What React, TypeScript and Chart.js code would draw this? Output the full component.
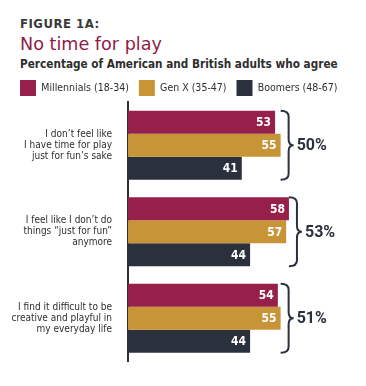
import React, { useEffect, useRef } from "react";
import { Chart, registerables } from "chart.js";

Chart.register(...registerables);

const categories: string[][] = [
  ["I don\u2019t feel like", "I have time for play", "just for fun\u2019s sake"],
  ["I feel like I don\u2019t do", "things \u201cjust for fun\u201d", "anymore"],
  ["I find it difficult to be", "creative and playful in", "my everyday life"],
];
const seriesNames = ["Millennials (18-34)", "Gen X (35-47)", "Boomers (48-67)"];
const millennials = [53, 58, 54];
const genX = [55, 57, 55];
const boomers = [41, 44, 44];
const totals = ["50%", "53%", "51%"];

const COLORS = ["#97204a", "#c89438", "#2b303d"];
const TEXT = "#2e2e2e";
const FONT = "'DejaVu Sans Condensed', 'DejaVu Sans', sans-serif";
const NARROW = "Roboto, 'DejaVu Sans Condensed', sans-serif";

function drawBrace(ctx: CanvasRenderingContext2D, x0: number, top: number, bottom: number) {
  const mid = (top + bottom) / 2;
  const vx = x0 + 8;
  const tip = x0 + 13;
  const r = 6;
  ctx.beginPath();
  ctx.moveTo(x0, top);
  ctx.quadraticCurveTo(vx, top, vx, top + r);
  ctx.lineTo(vx, mid - r);
  ctx.quadraticCurveTo(vx, mid, tip, mid);
  ctx.quadraticCurveTo(vx, mid, vx, mid + r);
  ctx.lineTo(vx, bottom - r);
  ctx.quadraticCurveTo(vx, bottom, x0, bottom);
  ctx.stroke();
}

const overlay = {
  id: "overlay",
  afterDatasetsDraw(chart: any) {
    const ctx: CanvasRenderingContext2D = chart.ctx;
    const xs = chart.scales.x;
    ctx.save();
    ctx.fillStyle = "#ffffff";
    ctx.font = `bold 12px ${FONT}`;
    ctx.textAlign = "right";
    ctx.textBaseline = "middle";
    chart.data.datasets.forEach((ds: any, di: number) => {
      const meta = chart.getDatasetMeta(di);
      meta.data.forEach((bar: any, i: number) => {
        ctx.fillText(String(ds.data[i]), bar.x - 4, bar.y + 1);
      });
    });
    ctx.strokeStyle = "#2b303d";
    ctx.lineWidth = 2;
    ctx.fillStyle = "#2b303d";
    ctx.font = `bold 16px ${NARROW}`;
    ctx.textAlign = "left";
    categories.forEach((_, i) => {
      const bars = chart.data.datasets.map((_d: any, di: number) => chart.getDatasetMeta(di).data[i]);
      const first = bars[0];
      const last = bars[bars.length - 1];
      const top = first.y - first.height / 2;
      const bottom = last.y + last.height / 2;
      const maxV = Math.max(...chart.data.datasets.map((d: any) => d.data[i]));
      const x0 = xs.getPixelForValue(maxV);
      drawBrace(ctx, x0, top, bottom);
      ctx.fillText(totals[i], x0 + 16, (top + bottom) / 2 + 1);
    });
    ctx.restore();
  },
};

export default function App() {
  const ref = useRef<HTMLCanvasElement>(null);
  useEffect(() => {
    if (!ref.current) return;
    const chart = new Chart(ref.current, {
      type: "bar",
      data: {
        labels: categories,
        datasets: [
          { label: seriesNames[0], data: millennials, backgroundColor: COLORS[0] },
          { label: seriesNames[1], data: genX, backgroundColor: COLORS[1] },
          { label: seriesNames[2], data: boomers, backgroundColor: COLORS[2] },
        ],
      },
      options: {
        indexAxis: "y",
        animation: false,
        responsive: true,
        maintainAspectRatio: false,
        layout: { padding: { top: 70, left: 10, right: 16, bottom: 22 } },
        datasets: { bar: { barPercentage: 1, categoryPercentage: 0.8, borderWidth: 0 } },
        scales: {
          x: { display: false, min: 0, max: 80 },
          y: {
            grid: { display: false },
            border: { display: true, color: "#2b303d", width: 2 },
            ticks: { color: TEXT, font: { family: FONT, size: 10, lineHeight: 1.1 }, padding: 8 },
            afterFit: (s: any) => { s.width = 118; },
          },
        },
        plugins: {
          legend: {
            position: "top",
            align: "start",
            maxHeight: 32,
            labels: {
              boxWidth: 16,
              boxHeight: 16,
              padding: 10,
              color: TEXT,
              font: { family: FONT, size: 10.5 },
            },
          },
          tooltip: { enabled: false },
        },
      },
      plugins: [overlay],
    });
    return () => chart.destroy();
  }, []);

  return (
    <div style={{ position: "relative", width: 366, height: 386, margin: -8, background: "#fff" }}>
      <div style={{ position: "absolute", left: 20, top: 16, fontFamily: FONT, fontWeight: "bold", fontSize: 13, color: "#3a3a3a", letterSpacing: 0.5, lineHeight: "16px" }}>
        FIGURE 1A:
      </div>
      <div style={{ position: "absolute", left: 20, top: 33, fontFamily: "'DejaVu Sans', sans-serif", fontSize: 17.6, color: "#8e1c47", lineHeight: "22px" }}>
        No time for play
      </div>
      <div style={{ position: "absolute", left: 20, top: 56, fontFamily: FONT, fontWeight: "bold", fontSize: 11.7, color: TEXT, lineHeight: "16px", whiteSpace: "nowrap" }}>
        Percentage of American and British adults who agree
      </div>
      <canvas ref={ref} style={{ position: "absolute", left: 0, top: 0 }} />
    </div>
  );
}
